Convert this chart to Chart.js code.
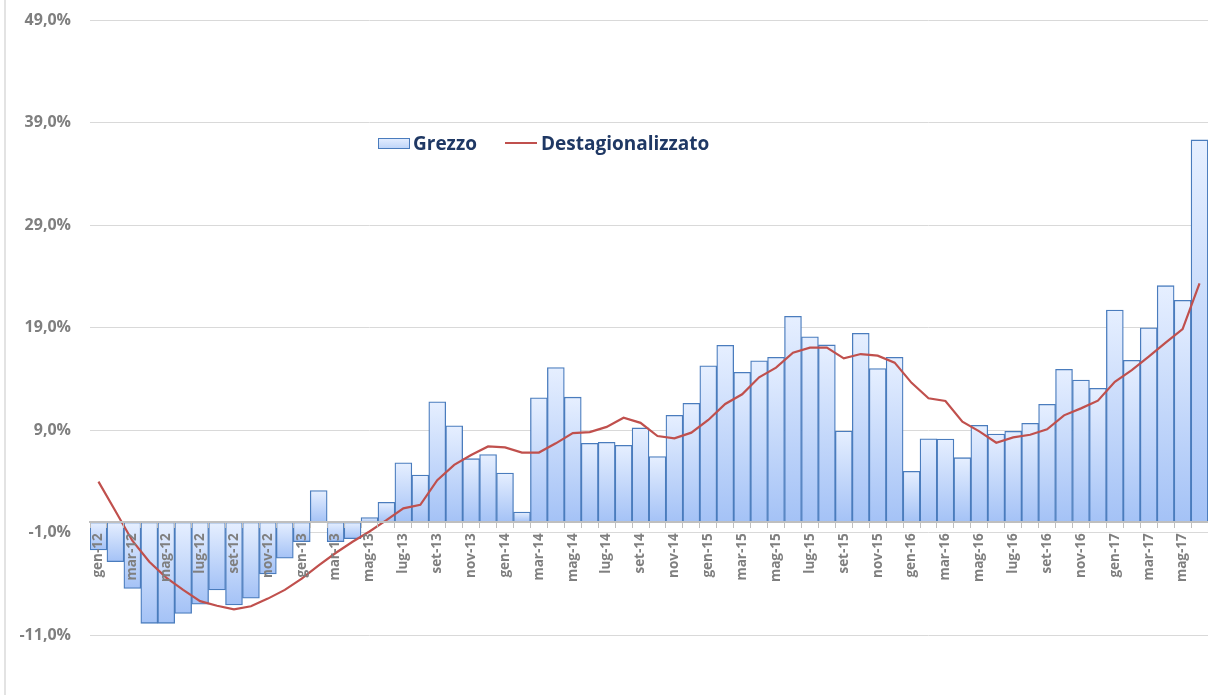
<!DOCTYPE html>
<html lang="it">
<head>
<meta charset="utf-8">
<title>Grezzo e Destagionalizzato</title>
<script src="https://cdn.jsdelivr.net/npm/chart.js@4.4.1/dist/chart.umd.min.js"></script>
<style>
  html, body { margin: 0; padding: 0; background: #ffffff; }
  #wrap { position: relative; width: 1208px; height: 695px; }
  #edge { position: absolute; left: 4px; top: 0; width: 0; height: 695px; border-left: 2px solid #e3e3e3; }
  #chart { position: absolute; left: 0; top: 0; }
</style>
</head>
<body>
<div id="wrap">
  <div id="edge"></div>
  <canvas id="chart" width="1208" height="695"></canvas>
</div>
<script>
// ---- data ----
const categories = [
  'gen-12','feb-12','mar-12','apr-12','mag-12','giu-12','lug-12','ago-12','set-12','ott-12','nov-12','dic-12',
  'gen-13','feb-13','mar-13','apr-13','mag-13','giu-13','lug-13','ago-13','set-13','ott-13','nov-13','dic-13',
  'gen-14','feb-14','mar-14','apr-14','mag-14','giu-14','lug-14','ago-14','set-14','ott-14','nov-14','dic-14',
  'gen-15','feb-15','mar-15','apr-15','mag-15','giu-15','lug-15','ago-15','set-15','ott-15','nov-15','dic-15',
  'gen-16','feb-16','mar-16','apr-16','mag-16','giu-16','lug-16','ago-16','set-16','ott-16','nov-16','dic-16',
  'gen-17','feb-17','mar-17','apr-17','mag-17','giu-17'
];

const grezzo = [
  -2.7, -3.85, -6.45, -9.86, -9.86, -8.9, -8.0, -6.6, -8.07, -7.4, -5.05, -3.5,
  -1.9, 3.1, -1.9, -1.6, 0.45, 1.95, 5.8, 4.6, 11.76, 9.4, 6.2, 6.6,
  4.8, 1.0, 12.15, 15.1, 12.2, 7.7, 7.8, 7.5, 9.2, 6.4, 10.43, 11.6,
  15.27, 17.26, 14.63, 15.76, 16.09, 20.09, 18.1, 17.3, 8.9, 18.43, 14.99, 16.09,
  4.97, 8.15, 8.12, 6.3, 9.45, 8.61, 8.87, 9.65, 11.5, 14.92, 13.88, 13.06,
  20.7, 15.8, 18.98, 23.08, 21.65, 37.3
];

const destagionalizzato = [
  3.96, 1.1, -1.8, -3.85, -5.4, -6.6, -7.7, -8.15, -8.5, -8.2, -7.45, -6.6,
  -5.5, -4.2, -3.0, -1.9, -0.9, 0.2, 1.36, 1.7, 4.1, 5.6, 6.56, 7.4,
  7.3, 6.8, 6.8, 7.7, 8.7, 8.8, 9.3, 10.2, 9.7, 8.41, 8.19, 8.74,
  9.98, 11.54, 12.48, 14.14, 15.08, 16.54, 17.03, 17.03, 15.99, 16.41, 16.25, 15.57,
  13.6, 12.1, 11.83, 9.81, 8.87, 7.76, 8.28, 8.54, 9.06, 10.43, 11.11, 11.86,
  13.71, 14.85, 16.15, 17.52, 18.85, 23.31
];

const seriesNames = ['Grezzo', 'Destagionalizzato'];
const yMin = -11, yMax = 49, yStep = 10;

// ---- styling ----
const BAR_TOP = '#e6efff';
const BAR_BOTTOM = '#a4c2f6';
const BAR_BORDER = '#4a7cbd';
const LINE_RED = '#c0504d';
const AXIS_GREY = '#7f7f7f';
const FONT = "'Open Sans', 'DejaVu Sans', sans-serif";

function barGradient(context) {
  const chart = context.chart;
  const yScale = chart.scales.y;
  if (!chart.chartArea || !yScale) return BAR_TOP;
  const v = context.raw;
  if (typeof v !== 'number') return BAR_TOP;
  const top = yScale.getPixelForValue(Math.max(v, 0));
  const bottom = yScale.getPixelForValue(Math.min(v, 0));
  if (!isFinite(top) || !isFinite(bottom) || bottom - top < 0.5) return BAR_TOP;
  const g = chart.ctx.createLinearGradient(0, top, 0, bottom);
  g.addColorStop(0, BAR_TOP);
  g.addColorStop(1, BAR_BOTTOM);
  return g;
}

const legendInside = {
  id: 'legendInside',
  afterDraw(chart) {
    const ctx = chart.ctx;
    ctx.save();
    const sx = 378, sy = 138, sw = 32, sh = 11;
    const g = ctx.createLinearGradient(0, sy, 0, sy + sh);
    g.addColorStop(0, BAR_TOP);
    g.addColorStop(1, '#bcd3f8');
    ctx.fillStyle = g;
    ctx.fillRect(sx, sy, sw, sh);
    ctx.strokeStyle = BAR_BORDER;
    ctx.lineWidth = 1;
    ctx.strokeRect(sx + 0.5, sy + 0.5, sw - 1, sh - 1);
    ctx.font = "bold 19px " + FONT;
    ctx.fillStyle = '#1f3864';
    ctx.textBaseline = 'alphabetic';
    ctx.textAlign = 'left';
    ctx.fillText(seriesNames[0], 413, 150);
    ctx.strokeStyle = LINE_RED;
    ctx.lineWidth = 2;
    ctx.beginPath();
    ctx.moveTo(505, 143);
    ctx.lineTo(537, 143);
    ctx.stroke();
    ctx.fillText(seriesNames[1], 541, 150);
    ctx.restore();
  }
};

const fmtPct = v => Number(v).toFixed(1).replace('.', ',') + '%';

function zeroPadding(scale) {
  scale.paddingLeft = 0;
  scale.paddingRight = 0;
  scale.paddingTop = 0;
  scale.paddingBottom = 0;
}

new Chart(document.getElementById('chart'), {
  type: 'bar',
  data: {
    labels: categories,
    datasets: [
      {
        type: 'line',
        label: seriesNames[1],
        data: destagionalizzato,
        borderColor: LINE_RED,
        backgroundColor: LINE_RED,
        borderWidth: 2.2,
        pointRadius: 0,
        tension: 0,
        fill: false,
        order: 0
      },
      {
        type: 'bar',
        label: seriesNames[0],
        data: grezzo,
        backgroundColor: barGradient,
        borderColor: BAR_BORDER,
        borderWidth: 1.3,
        borderSkipped: false,
        categoryPercentage: 1.0,
        barPercentage: 1.0,
        order: 1
      }
    ]
  },
  options: {
    responsive: false,
    animation: false,
    layout: { padding: { left: 10, right: 0, top: 20, bottom: 60 } },
    plugins: {
      legend: { display: false },
      tooltip: { enabled: false }
    },
    scales: {
      x: {
        type: 'category',
        position: { y: 0 },
        offset: true,
        grid: {
          display: true,
          drawOnChartArea: false,
          drawTicks: true,
          tickLength: 5,
          offset: true,
          color: '#bfbfbf',
          lineWidth: 1,
          z: 1
        },
        border: { display: true, color: '#bfbfbf', width: 2, z: 1 },
        ticks: {
          z: 1,
          autoSkip: false,
          maxRotation: 90,
          minRotation: 90,
          padding: 6,
          color: AXIS_GREY,
          font: { family: FONT, weight: 'bold', size: 13.5 },
          callback: function (value, index) {
            return index % 2 === 0 ? this.getLabelForValue(value) : '';
          }
        },
        afterFit: scale => { scale.height = 60; zeroPadding(scale); }
      },
      y: {
        min: yMin,
        max: yMax,
        grid: { color: '#d9d9d9', lineWidth: 1, drawTicks: false },
        border: { display: false },
        ticks: {
          stepSize: yStep,
          padding: 19,
          color: AXIS_GREY,
          font: { family: FONT, weight: 'bold', size: 16 },
          callback: v => fmtPct(v)
        },
        afterFit: scale => { scale.width = 80; zeroPadding(scale); }
      }
    }
  },
  plugins: [legendInside]
});
</script>
</body>
</html>
